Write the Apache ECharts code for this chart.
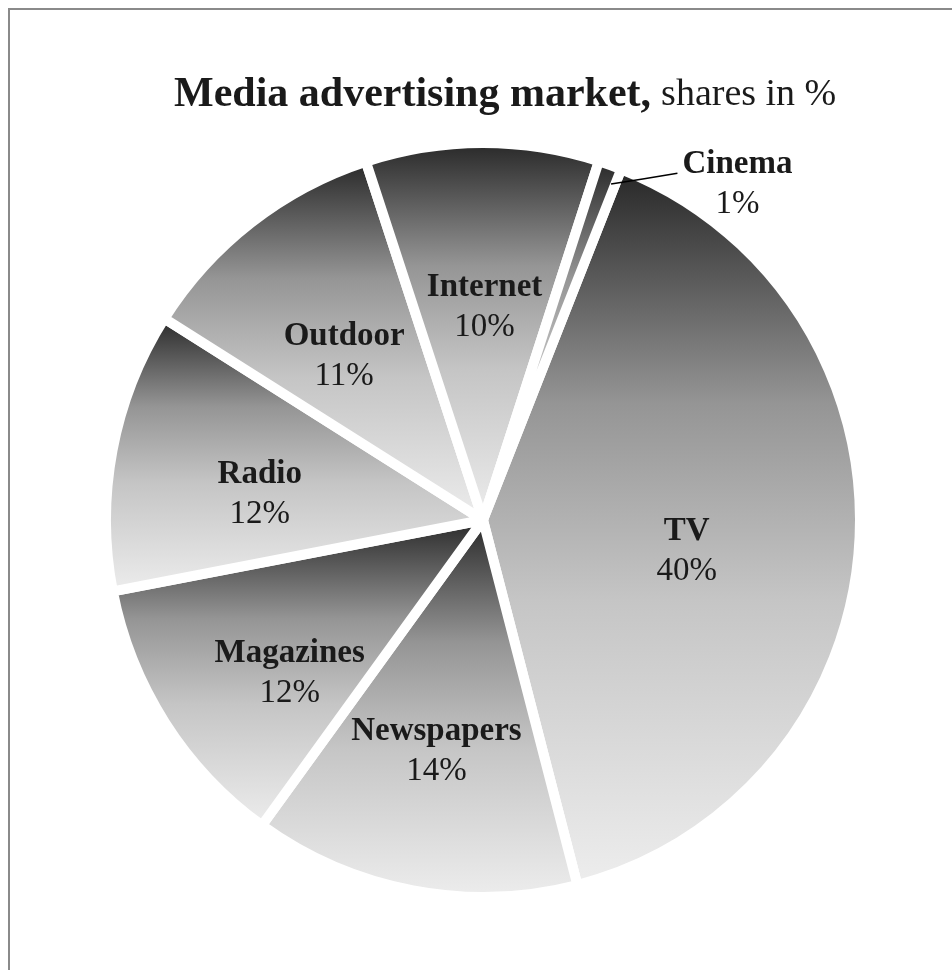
<!DOCTYPE html>
<html>
<head>
<meta charset="utf-8">
<script src="https://cdn.jsdelivr.net/npm/echarts@6/dist/echarts.min.js"></script>
<style>
  html, body { margin: 0; padding: 0; background: #ffffff; }
  #chart { width: 952px; height: 970px; }
</style>
</head>
<body>
<div id="chart"></div>
<script>
// Media advertising market, shares in %
const categories = ['TV', 'Newspapers', 'Magazines', 'Radio', 'Outdoor', 'Internet', 'Cinema'];
const shares = [40, 14, 12, 12, 11, 10, 1];
const titleBold = 'Media advertising market,';
const titleNormal = 'shares in %';
const outsideLabelled = ['Cinema'];

const FONT = '"Liberation Serif", "Times New Roman", serif';
const CX = 483, CY = 520, R = 377;
const START = 68.5;

// small nudges for the inside labels of the widest slices
const labelNudge = { TV: [-25, 17], Magazines: [0, 30], Newspapers: [-4, 6] };
const defaultNudge = [2, 17];

// each slice shaded dark at its top to light at its bottom
function sliceFill() {
  return new echarts.graphic.LinearGradient(0, 0, 0, 1, [
    { offset: 0, color: '#242424' },
    { offset: 0.33, color: '#959595' },
    { offset: 0.6, color: '#c5c5c5' },
    { offset: 1, color: '#eeeeee' }
  ]);
}

const labelRich = {
  n: { fontFamily: FONT, fontWeight: 'bold', fontSize: 33, lineHeight: 40, color: '#1a1a1a', align: 'center' },
  v: { fontFamily: FONT, fontWeight: 'normal', fontSize: 33, lineHeight: 40, color: '#1a1a1a', align: 'center' }
};
const labelFmt = '{n|{b}}\n{v|{c}%}';

const sliceData = categories.map((name, i) => ({
  name: name, value: shares[i], itemStyle: { color: sliceFill() }
}));

const insideLabelData = categories.map((name, i) => ({
  name: name,
  value: shares[i],
  label: { show: outsideLabelled.indexOf(name) < 0, offset: labelNudge[name] || defaultNudge }
}));

const outsideLabelData = categories.map((name, i) => {
  const on = outsideLabelled.indexOf(name) >= 0;
  return {
    name: name,
    value: shares[i],
    label: { show: on },
    labelLine: { show: on }
  };
});

const chart = echarts.init(document.getElementById('chart'), null, { renderer: 'canvas' });
chart.setOption({
  animation: false,
  backgroundColor: '#ffffff',
  title: {
    text: '{b|' + titleBold + '}  {n|' + titleNormal + '}',
    left: 169,
    top: 69,
    textStyle: {
      rich: {
        b: { fontFamily: FONT, fontWeight: 'bold', fontSize: 42, color: '#1a1a1a' },
        n: { fontFamily: FONT, fontWeight: 'normal', fontSize: 38, color: '#1a1a1a' }
      }
    }
  },
  graphic: [{
    type: 'rect',
    shape: { x: 9, y: 9, width: 1200, height: 1200 },
    style: { fill: null, stroke: '#8a8a8a', lineWidth: 2 },
    silent: true
  }],
  series: [
    {
      type: 'pie',
      center: [CX, CY],
      radius: [0, R],
      startAngle: START,
      clockwise: true,
      silent: true,
      itemStyle: { borderColor: '#ffffff', borderWidth: 10 },
      label: { show: false },
      labelLine: { show: false },
      data: sliceData
    },
    {
      // transparent ring that only carries the inside labels at ~60% of the radius
      type: 'pie',
      center: [CX, CY],
      radius: [0, R * 1.2],
      startAngle: START,
      clockwise: true,
      silent: true,
      z: 5,
      itemStyle: { color: 'rgba(0,0,0,0)', borderWidth: 0 },
      label: { show: true, position: 'inside', formatter: labelFmt, rich: labelRich },
      labelLine: { show: false },
      data: insideLabelData
    },
    {
      // transparent copy on top carrying the outside label with its leader line
      type: 'pie',
      center: [CX, CY],
      radius: [0, R],
      startAngle: START,
      clockwise: true,
      silent: true,
      avoidLabelOverlap: false,
      z: 10,
      itemStyle: { color: 'rgba(0,0,0,0)', borderWidth: 0 },
      label: {
        position: 'outside',
        formatter: labelFmt,
        rich: labelRich,
        padding: [46, 0, 0, 0],
        distanceToLabelLine: 5
      },
      labelLine: {
        length: 4, length2: 66, smooth: false, maxSurfaceAngle: 180,
        lineStyle: { color: '#000000', width: 1.5 }
      },
      // leader line starts just inside the slice rim
      labelLayout: function (params) {
        const pts = params.labelLinePoints;
        if (!pts || pts.length < 3) return {};
        const a = [pts[0][0] + 1, pts[0][1] + 19];
        const c = [pts[2][0], pts[2][1] + 12];
        return {
          labelLinePoints: [a, [(a[0] + c[0]) / 2, (a[1] + c[1]) / 2], c]
        };
      },
      data: outsideLabelData
    }
  ]
});
</script>
</body>
</html>
